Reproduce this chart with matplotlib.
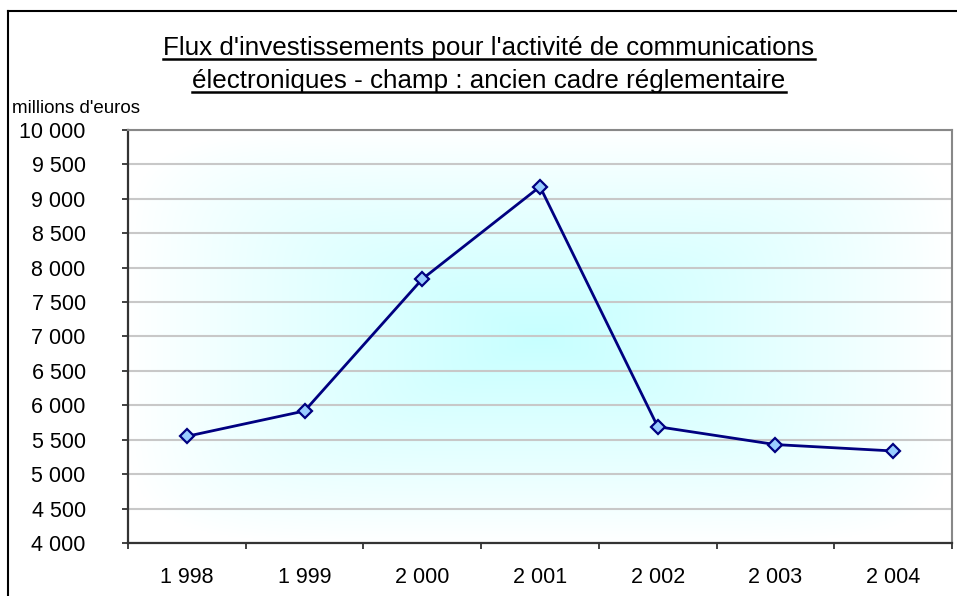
import numpy as np
import matplotlib.pyplot as plt
from matplotlib.lines import Line2D
from matplotlib.ticker import FuncFormatter

plt.rcParams['font.family'] = ['Liberation Sans', 'DejaVu Sans']

years = ["1 998", "1 999", "2 000", "2 001", "2 002", "2 003", "2 004"]
invest = [5550, 5918, 7835, 9177, 5690, 5430, 5337]
title_lines = ["Flux d'investissements pour l'activité de communications",
               "électroniques - champ : ancien cadre réglementaire"]
y_label = "millions d'euros"

fig = plt.figure(figsize=(9.57, 5.96), dpi=100)
W, H = 957, 596
ax = fig.add_axes([128 / W, 1 - 543 / H, (952 - 128) / W, (543 - 130) / H])

# background: cyan centre fading to white towards the edges (rectangular gradient)
u, v = np.meshgrid(np.linspace(-1, 1, 400), np.linspace(-1, 1, 300))
r = (np.abs(u) ** 6 + np.abs(v) ** 6) ** (1 / 6)
t = np.clip(1 - r, 0, 1) ** 0.9
centre = np.array([0.78, 1.0, 1.0])
img = np.ones((300, 400, 3)) * (1 - t[..., None]) + centre * t[..., None]
ax.imshow(img, extent=[0, 1, 0, 1], transform=ax.transAxes, aspect='auto', zorder=0)

x = np.arange(len(years))
ax.plot(x, invest, color='#000080', lw=2, marker='D', ms=6.8,
        mfc='#99CCFF', mec='#000080', mew=1.6, zorder=3)

ax.set_xlim(-0.5, len(years) - 0.5)
ax.set_ylim(4000, 10000)
ax.set_yticks(np.arange(4000, 10001, 500))
ax.yaxis.set_major_formatter(FuncFormatter(lambda val, p: f"{val:,.0f}".replace(",", " ")))
ax.set_xticks(x)
ax.set_xticklabels(years)
ax.set_xticks(np.arange(-0.5, len(years)), minor=True)
ax.tick_params(axis='x', which='major', length=0, pad=17, labelsize=15.5)
ax.tick_params(axis='x', which='minor', length=4.5, width=1.3, color='#333333')
ax.tick_params(axis='y', length=4.5, width=1.3, color='#333333', pad=26, labelsize=15.5)
ax.grid(axis='y', color='#c8c8c8', lw=1.5, zorder=1)
ax.set_axisbelow(True)
for side in ['left', 'bottom']:
    ax.spines[side].set_color('#333333')
    ax.spines[side].set_linewidth(1.6)
for side in ['top', 'right']:
    ax.spines[side].set_color('#888888')
    ax.spines[side].set_linewidth(1.5)

fig.text(12 / W, 1 - 113 / H, y_label, fontsize=13.5, ha='left', va='baseline')

# title with underline
bases = [55, 88]
title_texts = []
for line, base in zip(title_lines, bases):
    title_texts.append(fig.text(489 / W, 1 - base / H, line, fontsize=18.7,
                                ha='center', va='baseline'))
fig.canvas.draw()
rend = fig.canvas.get_renderer()
for tx, base in zip(title_texts, bases):
    bb = tx.get_window_extent(rend)
    yl = 1 - (base + 4) / H
    fig.add_artist(Line2D([bb.x0 / W, bb.x1 / W], [yl, yl], color='black', lw=1.8))

# chart frame (left and top edges visible)
fig.add_artist(Line2D([8 / W, 8 / W], [-0.1, 1 - 11 / H], color='black', lw=1.5))
fig.add_artist(Line2D([8 / W, 1.1], [1 - 11 / H, 1 - 11 / H], color='black', lw=1.5))

fig.savefig("out.png", dpi=100)
